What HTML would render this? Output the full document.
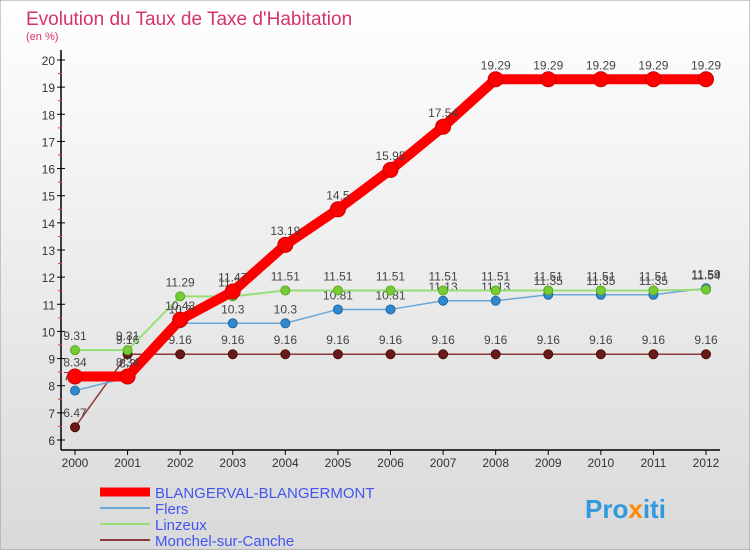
<!DOCTYPE html>
<html><head><meta charset="utf-8"><style>
body{margin:0;width:750px;height:550px;overflow:hidden;font-family:"Liberation Sans",sans-serif}
svg{display:block}
</style></head><body>
<svg id="c" width="750" height="550">
<defs><linearGradient id="bg" x1="0" y1="0" x2="0" y2="1"><stop offset="0" stop-color="#ffffff"/><stop offset="1" stop-color="#d9d9d9"/></linearGradient></defs>
<rect x="0" y="0" width="750" height="550" fill="url(#bg)" stroke="#999"/>
<text x="26" y="25" font-size="19" fill="#d6336c">Evolution du Taux de Taxe d'Habitation</text>
<text x="26" y="40" font-size="11" fill="#d6336c">(en %)</text>
<g id="axes"></g><g id="series"></g><g id="legend"></g>
<text x="585" y="518" font-size="26" font-weight="bold" fill="#3399dd">Pro<tspan fill="#ff8800">x</tspan>iti</text>
</svg>
<script>
const years=[2000,2001,2002,2003,2004,2005,2006,2007,2008,2009,2010,2011,2012];
const yTicks=[6,7,8,9,10,11,12,13,14,15,16,17,18,19,20];
const blangerval=[8.34,8.34,10.43,11.47,13.19,14.5,15.95,17.54,19.29,19.29,19.29,19.29,19.29];
const flers=[7.82,8.3,10.3,10.3,10.3,10.81,10.81,11.13,11.13,11.35,11.35,11.35,11.59];
const linzeux=[9.31,9.31,11.29,11.29,11.51,11.51,11.51,11.51,11.51,11.51,11.51,11.51,11.54];
const monchel=[6.47,9.16,9.16,9.16,9.16,9.16,9.16,9.16,9.16,9.16,9.16,9.16,9.16];
const names=["BLANGERVAL-BLANGERMONT","Flers","Linzeux","Monchel-sur-Canche"];
const NS="http://www.w3.org/2000/svg";
const X=i=>75+i*(706-75)/12;
const Y=v=>440-(v-6)*(380/14);
function mk(t,a,p){const e=document.createElementNS(NS,t);for(const k in a)e.setAttribute(k,a[k]);p.appendChild(e);return e;}
const ax=document.getElementById('axes');
let l=mk('line',{x1:61,y1:50,x2:61,y2:450,stroke:'#000','stroke-width':1.5},ax);


l=mk('line',{x1:61,y1:450,x2:720,y2:450,stroke:'#000','stroke-width':1.5},ax);


yTicks.forEach(v=>{
 mk('line',{x1:57,y1:Y(v),x2:65,y2:Y(v),stroke:'#000'},ax);
 if(v<20)mk('line',{x1:58,y1:Y(v+0.5),x2:62,y2:Y(v+0.5),stroke:'#e33'},ax);
 const t=mk('text',{x:55,y:Y(v)+5,'font-size':12,'text-anchor':'end',fill:'#333'},ax);t.textContent=v;
 
 
});
years.forEach((yr,i)=>{
 mk('line',{x1:X(i),y1:450,x2:X(i),y2:455,stroke:'#000'},ax);
 const t=mk('text',{x:X(i),y:467,'font-size':12,'text-anchor':'middle',fill:'#333'},ax);t.textContent=yr;
 
 
});
const sg=document.getElementById('series');
function series(vals,color,w,r,dot,stroke,name){
 const g=mk('g',{},sg);
 
 
 mk('polyline',{points:vals.map((v,i)=>X(i)+','+Y(v)).join(' '),fill:'none',stroke:color,'stroke-width':w,'stroke-linejoin':'round'},g);
 vals.forEach((v,i)=>{
  const c=mk('circle',{cx:X(i),cy:Y(v),r:r,fill:dot,stroke:stroke,'stroke-width':1},g);
  
  
  const t=mk('text',{x:X(i),y:Y(v)-10,'font-size':12,'text-anchor':'middle',fill:'#444'},g);t.textContent=v;
 });
}
series(monchel,'#8b3a3a',1.5,4.5,'#6b1a1a','#4a0e0e','series-monchel');
series(flers,'#6aa8d8',1.5,4.5,'#3388cc','#1d6aa8','series-flers');
series(linzeux,'#99dd77',2,4.5,'#77cc33','#55aa22','series-linzeux');
series(blangerval,'#ff0000',10,7.5,'#ff0000','#cc0000','series-blangerval');
const lg=document.getElementById('legend');
const lc=[['#ff0000',9],['#6aa8d8',2],['#99dd77',2],['#8b3a3a',2]];
names.forEach((n,i)=>{
 const y=492+i*16;
 const g=mk('g',{},lg);
 
 
 mk('line',{x1:100,y1:y,x2:150,y2:y,stroke:lc[i][0],'stroke-width':lc[i][1]},g);
 const t=mk('text',{x:155,y:y+6,'font-size':15,fill:'#4455ee'},g);t.textContent=n;
});
</script>
</body></html>
